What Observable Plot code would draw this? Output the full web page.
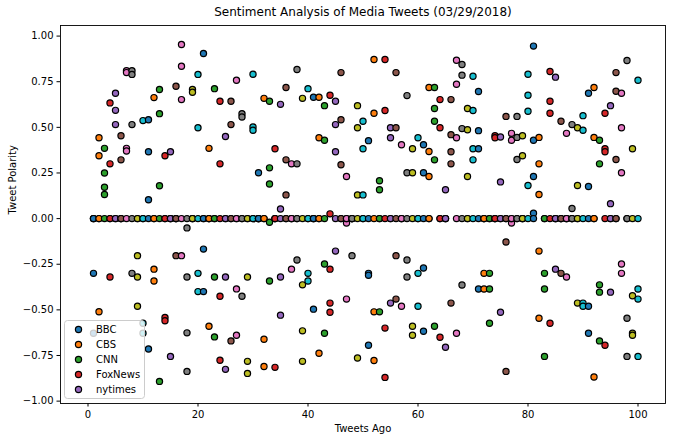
<!DOCTYPE html>
<html><head><meta charset="utf-8">
<script src="https://cdn.jsdelivr.net/npm/d3@7"></script>
<script src="https://cdn.jsdelivr.net/npm/@observablehq/plot@0.6"></script>
<style>
body{margin:0;background:#fff;font-family:"DejaVu Sans",sans-serif;}
#wrap{position:relative;width:683px;height:441px;overflow:hidden;}
#legend{position:absolute;left:64px;top:320px;}
</style></head><body>
<div id="wrap"><div id="chart"></div><div id="legend"></div></div>
<script>
const title = "Sentiment Analysis of Media Tweets (03/29/2018)";
const xLabel = "Tweets Ago";
const yLabel = "Tweet Polarity";
const sources = ["BBC", "CBS", "CNN", "FoxNews", "nytimes"];
const palette = ["#1f77b4","#ff7f0e","#2ca02c","#d62728","#9467bd","#8c564b","#e377c2","#7f7f7f","#bcbd22","#17becf"];
const xTicks = [0, 20, 40, 60, 80, 100];
const yTicks = [-1, -0.75, -0.5, -0.25, 0, 0.25, 0.5, 0.75, 1];
const tweetsAgo = d3.range(1, 101);

const bbc = [-0.30,0.443,0.385,0.634,0.687,0.454,0.81,0.81,-0.203,0.537,
0.542,0.663,0.707,0.344,0.366,0.725,0.954,-0.051,0.707,0.79,
0.905,0.385,0.712,0.643,0.45,0.643,0.758,0.575,-0.32,0.791,
0.251,0.659,0.643,0.383,0.626,0.718,0.30,0.817,0.659,0.712,
0.665,0.665,0.619,0.676,0.643,0.80,0.231,-0.203,0.619,0.533,
0.427,0.872,0.207,0.872,0.498,0.80,0.405,0.674,0.383,0.443,
0.405,0.718,0.718,0.652,0.158,0.652,0.868,0.844,0.603,0.78,
0.696,-0.30,-0.30,0.454,0.447,0.56,0.467,0.56,0.454,0.791,
0.945,0.445,-0.30,0.806,0.775,0.533,0.467,0.515,0.498,0.564,
0.687,0.718,0.429,0.577,0.619,0.80,0.687,0.866,0.383,0.758];

const cbs = [-0.628,0.344,0.25,0.30,0.593,0.322,0.80,0.79,-0.32,-0.573,
0.366,-0.277,0.575,-0.542,-0.755,-0.203,0.835,-0.32,0.692,0.498,
-0.167,-0.59,-0.32,0.30,-0.32,0.515,-0.385,0.557,-0.782,0.502,
0,-0.661,0.278,-0.815,0.053,0.322,-0.277,0.30,-0.363,-0.30,
-0.496,0.443,0.429,0.026,0.515,0.542,-0.024,0,0.498,0.383,
-0.30,0.577,0.158,0.592,0.443,0.498,-0.48,0.251,0.251,-0.30,
0.251,0.368,0.603,0.498,-0.705,0.46,0.736,0.786,0.487,0.592,
0.482,-0.386,-0.386,0.443,0.201,-0.128,0.429,0.445,0.344,0.676,
0.429,0.30,-0.386,0.643,-0.277,-0.30,-0.32,0.055,0.181,0.484,
0.176,0.445,0.30,0.383,0.082,0.698,0.498,-0.546,-0.423,-0.386];

const cnn = [0,-0.51,0.172,-0.32,0.515,0,0.385,0.515,-0.48,-0.628,
0.103,-0.342,0.18,-0.56,0,0,0.652,-0.626,0,-0.30,
-0.40,0,-0.648,-0.425,-0.826,-0.67,-0.639,-0.425,-0.848,0.484,
0,-0.81,0.19,0,-0.32,0.13,0,-0.227,-0.615,-0.342,
0,-0.738,-0.249,-0.277,0.366,0.295,-0.441,0,0.13,0.13,
-0.311,-0.511,-0.511,-0.60,-0.463,-0.203,0,-0.227,-0.59,-0.48,
-0.271,0.231,0.533,-0.65,0,0.366,0.443,0.493,0.231,0.383,
0.383,0,-0.573,0,-0.513,-0.837,-0.024,0.324,0,0.588,
0.231,0.132,-0.755,0.577,0,0,0,0,-0.463,-0.463,
-0.48,-0.868,-0.363,0.366,-0.403,0.324,0.251,-0.755,-0.628,-0.441];

const fox = [0,0,0.132,0,0,0,0.37,-0.30,0,0,
-0.714,0,-0.892,0,0,0,-0.203,-0.837,0,-0.40,
0,0,0,-0.776,0,0,0,0,0,0,
0,0,-0.02,0,-0.529,0,0,0,-0.782,0,
0,0,-0.628,-0.463,-0.178,0,0,0,-0.764,0,
-0.694,-0.777,0,-0.87,0,-0.441,0,-0.32,-0.639,0,
-0.617,0,0.322,0,0,0.30,-0.628,-0.364,0,0.322,
-0.386,0,0,0,0,0,0,0,0,0.181,
0.029,-0.178,0,-0.573,0,0,0,0,0,-0.48,
-0.628,0,-0.403,-0.694,0,0,-0.249,0,-0.639,-0.755];

const nyt = [0,0,0,0,0,0,0,0,0,0,
0,0,0,0,0,0,0,0,0,0,
0,0,0,0,0,0,0,0,0,0,
0,0,-0.342,0,0,0,0,0,0,0,
0,0,0,-0.513,0,0,0,0,0,0,
0,0,0,0,0,0,0,0,0,0,
0,0,-0.59,0,0,-0.463,0,0,0,0,
0,0,0,0,0,0,0,0,0,0,
0,-0.546,0,0,0,0,0,0,0,0,
0,0,-0.67,0,0,0,-0.30,0,0,0];

const seriesValues = [bbc, cbs, cnn, fox, nyt];

// one scatter per tweet index (all five outlets), colour cycling per call
const rows = [];
tweetsAgo.forEach((t, k) => {
  seriesValues.forEach((arr, s) => rows.push({t, v: arr[k], source: sources[s], col: palette[k % palette.length]}));
});

const fmt = d => d.toFixed(2).replace("-", "\u2212");

const chart = Plot.plot({
  width: 683,
  height: 441,
  marginTop: 25,
  marginBottom: 38,
  marginLeft: 60,
  marginRight: 18,
  style: {fontFamily: "DejaVu Sans, sans-serif", fontSize: "10px", color: "black", background: "white"},
  x: {domain: [-5, 105]},
  y: {domain: [-1.013, 1.058]},
  color: {type: "identity"},
  marks: [
    Plot.dot(rows, {x: "t", y: "v", fill: "col", stroke: "black", strokeWidth: 1.2, r: 3.1}),
    Plot.frame({stroke: "black", strokeWidth: 0.9}),
    Plot.axisX({ticks: xTicks, tickSize: 3.5, tickPadding: 3.5, label: null, tickFormat: d => String(d), fontSize: 10}),
    Plot.axisY({ticks: yTicks, tickSize: 3.5, tickPadding: 3.5, label: null, tickFormat: fmt, fontSize: 10}),
    Plot.text([title], {frameAnchor: "top", lineAnchor: "middle", dy: -13, fontSize: 12, fill: "black"}),
    Plot.text([xLabel], {frameAnchor: "bottom", lineAnchor: "middle", dy: 25, fontSize: 10, fill: "black"}),
    Plot.text([yLabel], {frameAnchor: "left", lineAnchor: "middle", dx: -48, rotate: -90, fontSize: 10, fill: "black"})
  ]
});
document.getElementById("chart").appendChild(chart);

// legend (first five scatter handles)
const lg = d3.select("#legend").append("svg").attr("width", 81).attr("height", 79);
lg.append("rect").attr("x", 0.5).attr("y", 0.5).attr("width", 80).attr("height", 78)
  .attr("rx", 3).attr("fill", "white").attr("fill-opacity", 0.8).attr("stroke", "#cccccc");
sources.forEach((s, i) => {
  const cy = 9.5 + i * 15;
  lg.append("circle").attr("cx", 14.5).attr("cy", cy).attr("r", 3.1).attr("fill", palette[i]).attr("stroke", "black").attr("stroke-width", 1.2);
  lg.append("text").attr("x", 32).attr("y", cy).attr("dy", "0.36em")
    .attr("font-family", "DejaVu Sans, sans-serif").attr("font-size", 10).attr("fill", "black").text(s);
});
</script>
</body></html>
